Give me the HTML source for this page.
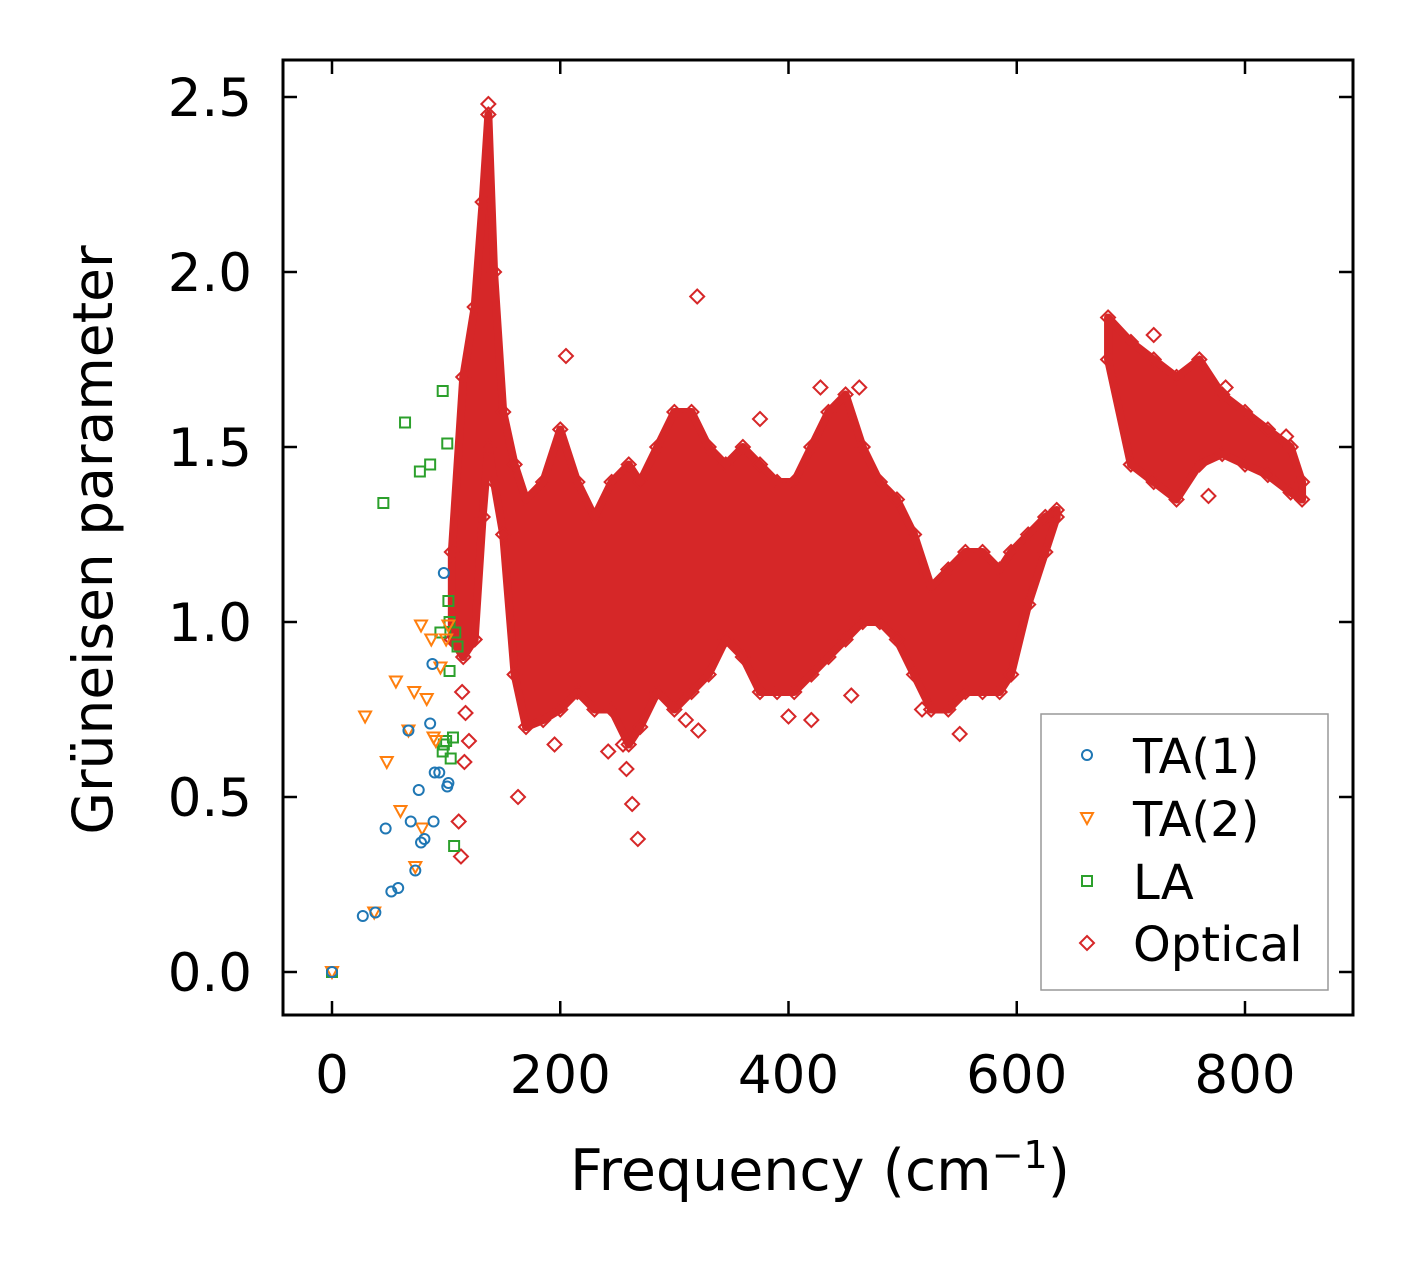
<!DOCTYPE html>
<html><head><meta charset="utf-8"><style>
body{margin:0;background:#fff;}
svg text{font-family:"DejaVu Sans","Liberation Sans",sans-serif;fill:#000;}
</style></head><body>
<svg id="chart" width="1413" height="1264" xmlns="http://www.w3.org/2000/svg">
<rect width="1413" height="1264" fill="#fff"/>
<g id="plot"></g>
<rect x="283" y="60" width="1070" height="955" fill="none" stroke="#000" stroke-width="3"/>
<g id="axes"></g>
<text x="820" y="1190" font-size="57" text-anchor="middle">Frequency (cm<tspan dy="-22" font-size="38">−1</tspan><tspan dy="22">)</tspan></text>
<text transform="translate(112,540) rotate(-90)" font-size="55" text-anchor="middle">Grüneisen parameter</text>
<g>
<rect x="1041" y="714" width="287" height="276" fill="#fff" stroke="#999" stroke-width="1.5"/>
<circle cx="1087" cy="755" r="5" fill="none" stroke="#1f77b4" stroke-width="2"/>
<text x="1133" y="773" font-size="48">TA(1)</text>
<path d="M1081 813 L1093 813 L1087 824 Z" fill="none" stroke="#ff7f0e" stroke-width="2"/>
<text x="1133" y="836" font-size="48">TA(2)</text>
<rect x="1082" y="876" width="10" height="10" fill="none" stroke="#2ca02c" stroke-width="2"/>
<text x="1133" y="899" font-size="48">LA</text>
<path d="M1087 936 L1094 943 L1087 950 L1080 943 Z" fill="none" stroke="#d62728" stroke-width="2"/>
<text x="1133" y="961" font-size="48">Optical</text>
</g>
</svg>
<script>
const ta1X=[0,27,38,47,52,58,67,69,73,76,78,81,86,88,89,90,94,98,101,102];
const ta1Y=[0,0.16,0.17,0.41,0.23,0.24,0.69,0.43,0.29,0.52,0.37,0.38,0.71,0.88,0.43,0.57,0.57,1.14,0.53,0.54];
const ta2X=[0,29,37,48,56,60,67,72,73,78,79,83,87,89,91,95,100,102];
const ta2Y=[0,0.73,0.17,0.6,0.83,0.46,0.69,0.8,0.3,0.99,0.41,0.78,0.95,0.67,0.66,0.87,0.95,0.99];
const laX=[0,45,64,77,86,95,97,97,98,100,101,102,103,103,104,106,107,108,110];
const laY=[0,1.34,1.57,1.43,1.45,0.97,1.66,0.63,0.65,0.66,1.51,1.06,1.0,0.86,0.61,0.67,0.36,0.97,0.93];
const bandAX=[105,115,125,132,137,142,150,160,170,185,200,215,230,245,260,270,285,300,315,330,345,360,375,390,405,420,435,450,465,480,495,510,525,540,555,570,585,595,610,625,635];
const bandALo=[0.95,0.9,0.95,1.3,1.5,1.4,1.25,0.85,0.7,0.72,0.75,0.8,0.75,0.75,0.65,0.7,0.8,0.75,0.8,0.85,0.95,0.9,0.8,0.8,0.8,0.85,0.9,0.95,1.0,1.0,0.95,0.85,0.75,0.75,0.8,0.8,0.8,0.85,1.05,1.2,1.3];
const bandAHi=[1.2,1.7,1.9,2.2,2.45,2.0,1.6,1.45,1.35,1.4,1.55,1.4,1.3,1.4,1.45,1.4,1.5,1.6,1.6,1.5,1.45,1.5,1.45,1.4,1.4,1.5,1.6,1.65,1.5,1.4,1.35,1.25,1.1,1.15,1.2,1.2,1.15,1.2,1.25,1.3,1.32];
const bandBX=[680,700,720,740,760,780,800,820,840,850];
const bandBLo=[1.75,1.45,1.4,1.35,1.45,1.48,1.45,1.42,1.37,1.35];
const bandBHi=[1.87,1.8,1.75,1.7,1.75,1.65,1.6,1.55,1.5,1.4];
const optX=[320,163,205,268,263,258,137,113,111,116,120,242,255,550,310,321,375,428,462,720,768,783,836,195,400,420,455,517,117,114];
const optY=[1.93,0.5,1.76,0.38,0.48,0.58,2.48,0.33,0.43,0.6,0.66,0.63,0.65,0.68,0.72,0.69,1.58,1.67,1.67,1.82,1.36,1.67,1.53,0.65,0.73,0.72,0.79,0.75,0.74,0.8];
const xTicks=[0,200,400,600,800];
const yTicks=[0,0.5,1.0,1.5,2.0,2.5];
const yTickLabels=["0.0","0.5","1.0","1.5","2.0","2.5"];

const NS="http://www.w3.org/2000/svg";
const sx=v=>332+v*(1245-332)/800;
const sy=v=>972-v*350;
const plot=document.getElementById('plot');
const axes=document.getElementById('axes');
function mk(tag,attrs,parent){const e=document.createElementNS(NS,tag);for(const k in attrs)e.setAttribute(k,attrs[k]);parent.appendChild(e);return e;}
const red="#d62728";
function diamond(x,y,parent){const X=sx(x),Y=sy(y);const e=mk('path',{d:`M${X} ${Y-7} L${X+7} ${Y} L${X} ${Y+7} L${X-7} ${Y} Z`,fill:'none',stroke:red,'stroke-width':2},parent);

}
function band(xs,lo,hi,name){let d='M'+xs.map((x,i)=>sx(x)+' '+sy(hi[i])).join(' L');
for(let i=xs.length-1;i>=0;i--)d+=' L'+sx(xs[i])+' '+sy(lo[i]);d+=' Z';
const e=mk('path',{d:d,fill:red,stroke:red,'stroke-width':8,'stroke-linejoin':'round'},plot);


xs.forEach((x,i)=>{diamond(x,lo[i],plot);diamond(x,hi[i],plot);});}
band(bandAX,bandALo,bandAHi,'optical-band-low');
band(bandBX,bandBLo,bandBHi,'optical-band-high');
optX.forEach((x,i)=>diamond(x,optY[i],plot));
laX.forEach((x,i)=>{const e=mk('rect',{x:sx(x)-5,y:sy(laY[i])-5,width:10,height:10,fill:'none',stroke:'#2ca02c','stroke-width':2},plot);

});
ta2X.forEach((x,i)=>{const X=sx(x),Y=sy(ta2Y[i]);const e=mk('path',{d:`M${X-6} ${Y-5} L${X+6} ${Y-5} L${X} ${Y+6} Z`,fill:'none',stroke:'#ff7f0e','stroke-width':2},plot);

});
ta1X.forEach((x,i)=>{const e=mk('circle',{cx:sx(x),cy:sy(ta1Y[i]),r:5,fill:'none',stroke:'#1f77b4','stroke-width':2},plot);

});
xTicks.forEach(v=>{const X=sx(v);
mk('line',{x1:X,x2:X,y1:1015,y2:1001,stroke:'#000','stroke-width':2.5},axes);
mk('line',{x1:X,x2:X,y1:60,y2:74,stroke:'#000','stroke-width':2.5},axes);
const t=mk('text',{x:X,y:1093,'font-size':53,'text-anchor':'middle'},axes);t.textContent=v;

});
yTicks.forEach((v,i)=>{const Y=sy(v);
mk('line',{x1:283,x2:297,y1:Y,y2:Y,stroke:'#000','stroke-width':2.5},axes);
mk('line',{x1:1353,x2:1339,y1:Y,y2:Y,stroke:'#000','stroke-width':2.5},axes);
const t=mk('text',{x:252,y:Y+19,'font-size':53,'text-anchor':'end'},axes);t.textContent=yTickLabels[i];

});
</script>
</body></html>
